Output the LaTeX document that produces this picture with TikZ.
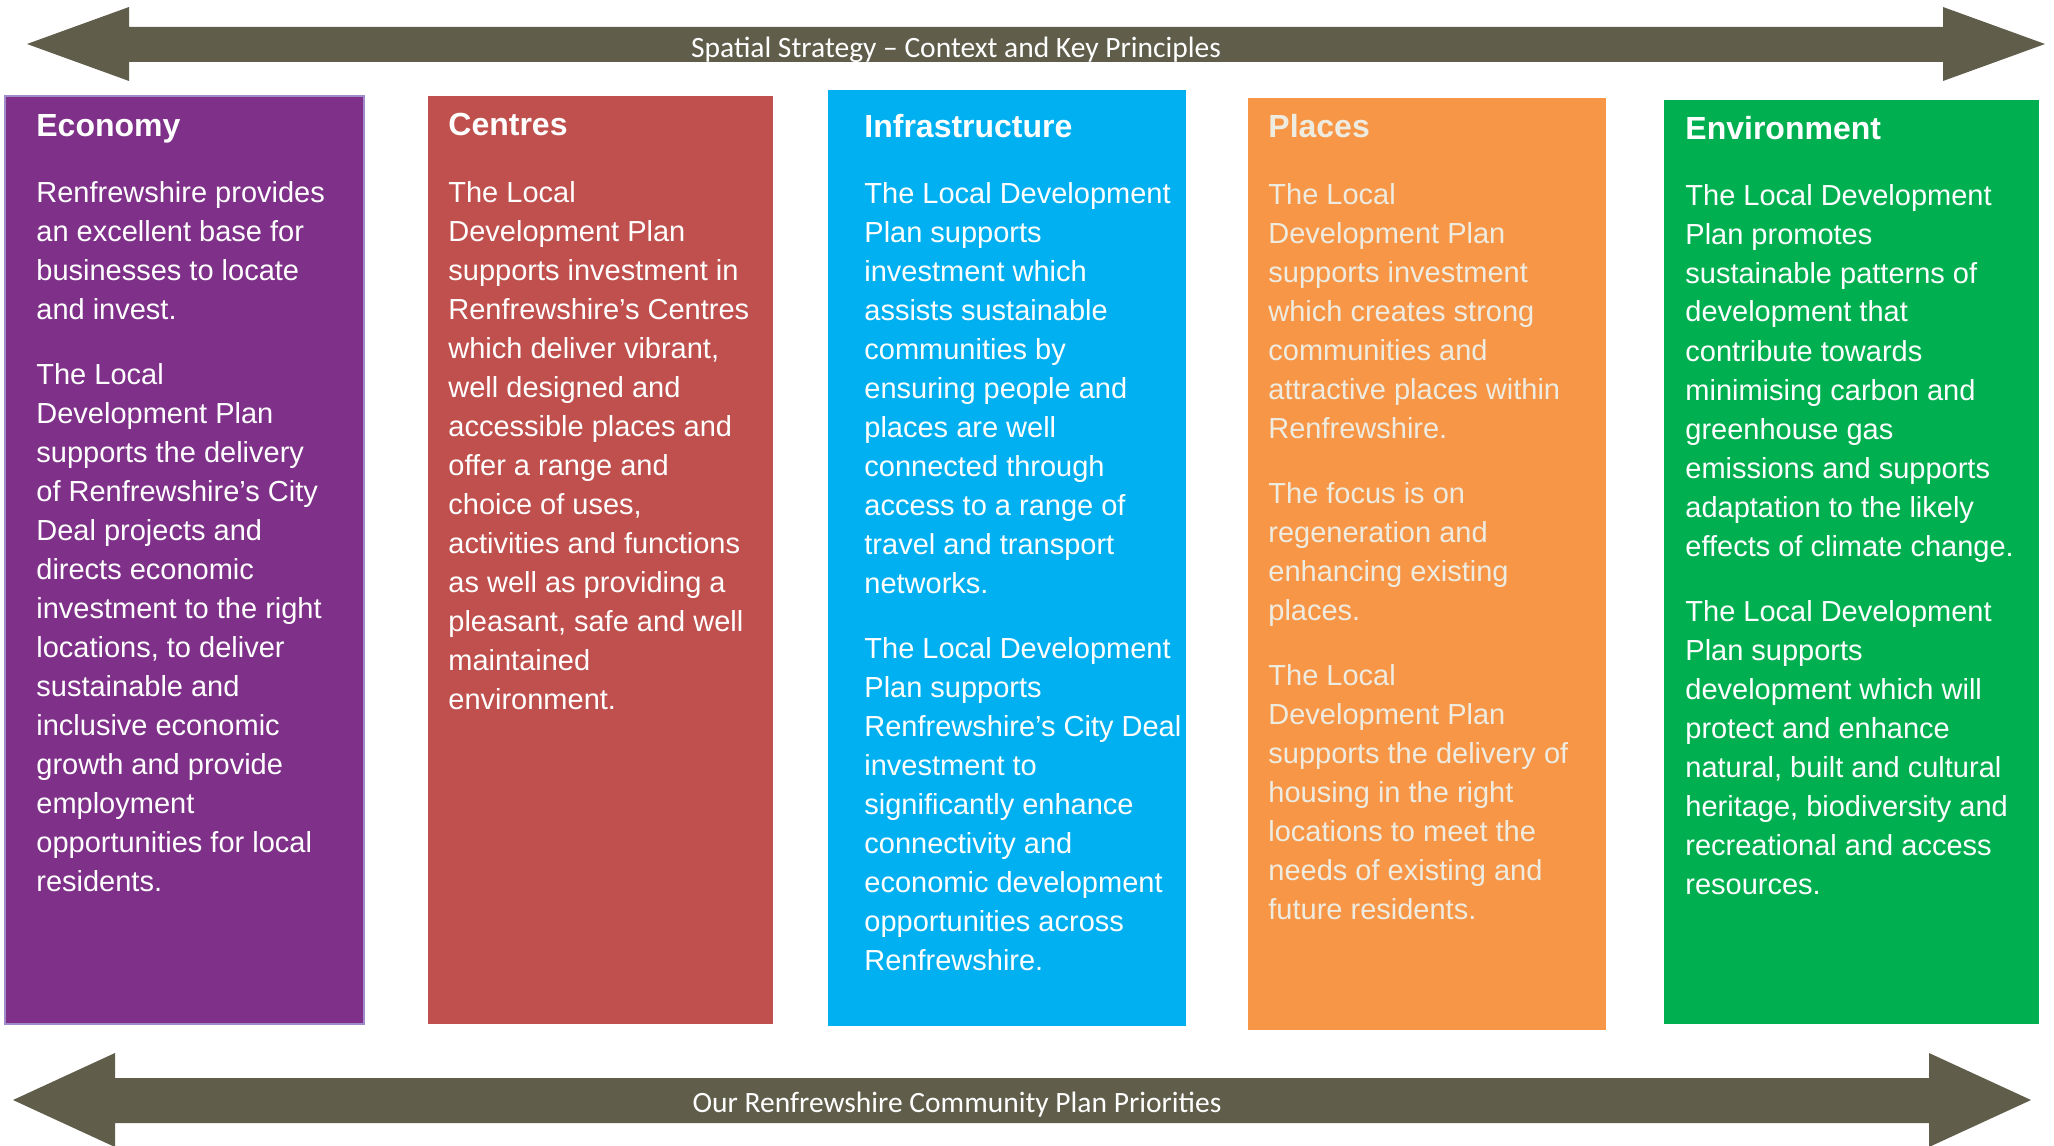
\documentclass[tikz,border=0pt]{standalone}
\usepackage{fontspec}
\setmainfont{Liberation Sans}
\newfontfamily\bannerfont{Carlito}

\definecolor{bandgrey}{RGB}{96,94,75}
\definecolor{econpurple}{RGB}{127,48,137}
\definecolor{econedge}{RGB}{160,140,200}
\definecolor{centred}{RGB}{192,80,77}
\definecolor{infracyan}{RGB}{0,176,240}
\definecolor{placeorange}{RGB}{247,150,70}
\definecolor{placetext}{RGB}{238,236,225}
\definecolor{envgreen}{RGB}{0,176,80}

% column text, baseline at its first line
\newcommand{\coltext}[1]{\begin{tabular}[t]{@{}l@{}}#1\end{tabular}}

\begin{document}
\begin{tikzpicture}[x=0.5pt, y=-0.5pt,
  head/.style={anchor=base west, inner sep=0pt, text=white, font=\fontsize{16}{19}\selectfont\bfseries},
  body/.style={anchor=base west, inner sep=0pt, text=white, font=\fontsize{14.5}{19.5}\selectfont},
  banner/.style={inner sep=0pt, text=white, font=\bannerfont\fontsize{14.75}{17}\selectfont}]
  \useasboundingbox (0,0) rectangle (2054,1145);
  % two-headed bands
  \fill[bandgrey] (27,44) -- (129,7) -- (129,27) -- (1943,27) -- (1943,7) -- (2045,44)
    -- (1943,81) -- (1943,62) -- (129,62) -- (129,81) -- cycle;
  \fill[bandgrey] (13,1100) -- (115,1053) -- (115,1078) -- (1929,1078) -- (1929,1053) -- (2031,1100)
    -- (1929,1147) -- (1929,1123) -- (115,1123) -- (115,1147) -- cycle;
  \node[banner] (strategy) at (956,50) {Spatial Strategy – Context and Key Principles};
  \node[banner] (priorities) at (957,1105) {Our Renfrewshire Community Plan Priorities};
  % columns
  \filldraw[fill=econpurple, draw=econedge, line width=1pt] (5,96) rectangle (364,1024);
  \fill[centred] (428,96) rectangle (773,1024);
  \fill[infracyan] (828,90) rectangle (1186,1026);
  \fill[placeorange] (1248,98) rectangle (1606,1030);
  \fill[envgreen] (1664,100) rectangle (2039,1024);
  % Economy
  \node[head] (economy) at (36,136) {Economy};
  \node[body] (economytxt) at (36,202) {\coltext{Renfrewshire provides\\ an excellent base for\\ businesses to locate\\ and invest.\\[13pt]
    The Local\\ Development Plan\\ supports the delivery\\ of Renfrewshire’s City\\ Deal projects and\\ directs economic\\
    investment to the right\\ locations, to deliver\\ sustainable and\\ inclusive economic\\ growth and provide\\
    employment\\ opportunities for local\\ residents.}};
  % Centres
  \node[head] (centres) at (448,135) {Centres};
  \node[body] (centrestxt) at (448,202) {\coltext{The Local\\ Development Plan\\ supports investment in\\ Renfrewshire’s Centres\\
    which deliver vibrant,\\ well designed and\\ accessible places and\\ offer a range and\\ choice of uses,\\
    activities and functions\\ as well as providing a\\ pleasant, safe and well\\ maintained\\ environment.}};
  % Infrastructure
  \node[head] (infra) at (864,138) {Infrastructure};
  \node[body] (infratxt) at (864,203) {\coltext{The Local Development\\ Plan supports\\ investment which\\ assists sustainable\\
    communities by\\ ensuring people and\\ places are well\\ connected through\\ access to a range of\\
    travel and transport\\ networks.\\[13pt]
    The Local Development\\ Plan supports\\ Renfrewshire’s City Deal\\ investment to\\ significantly enhance\\
    connectivity and\\ economic development\\ opportunities across\\ Renfrewshire.}};
  % Places
  \node[head, text=placetext] (places) at (1268,138) {Places};
  \node[body, text=placetext] (placestxt) at (1268,204) {\coltext{The Local\\ Development Plan\\ supports investment\\
    which creates strong\\ communities and\\ attractive places within\\ Renfrewshire.\\[13pt]
    The focus is on\\ regeneration and\\ enhancing existing\\ places.\\[13pt]
    The Local\\ Development Plan\\ supports the delivery of\\ housing in the right\\ locations to meet the\\
    needs of existing and\\ future residents.}};
  % Environment
  \node[head] (environment) at (1685,140) {Environment};
  \node[body] (environmenttxt) at (1685,205) {\coltext{The Local Development\\ Plan promotes\\ sustainable patterns of\\
    development that\\ contribute towards\\ minimising carbon and\\ greenhouse gas\\ emissions and supports\\
    adaptation to the likely\\ effects of climate change.\\[13pt]
    The Local Development\\ Plan supports\\ development which will\\ protect and enhance\\
    natural, built and cultural\\ heritage, biodiversity and\\ recreational and access\\ resources.}};
\end{tikzpicture}
\end{document}
